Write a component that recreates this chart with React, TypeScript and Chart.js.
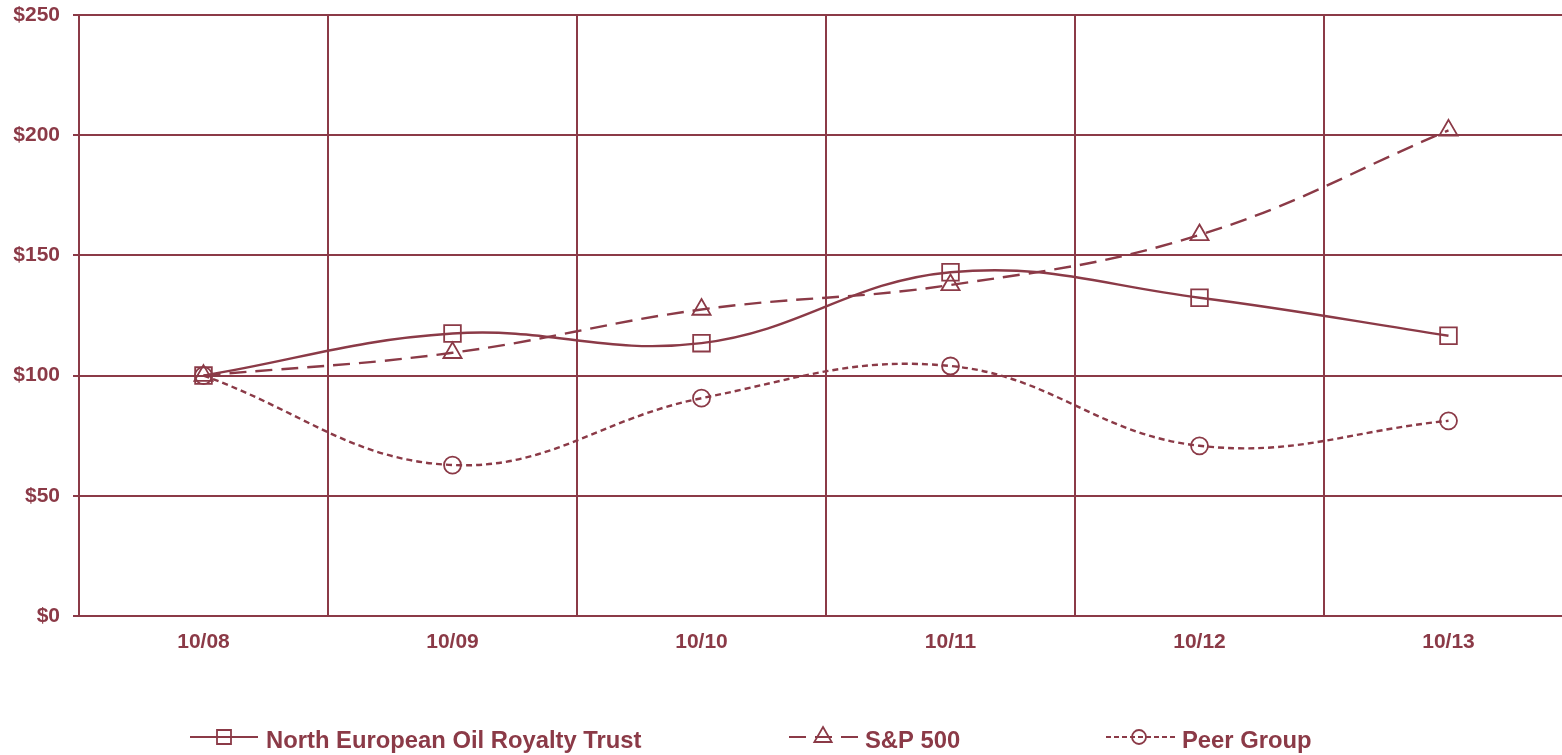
import React, { useEffect, useRef } from 'react';
import { Chart, registerables } from 'chart.js';

Chart.register(...registerables);

const categories = ['10/08', '10/09', '10/10', '10/11', '10/12', '10/13'];
const neortValues = [100, 117.5, 113.5, 143, 132.4, 116.6];
const spValues = [100, 109.5, 127.5, 137.7, 158.5, 202];
const peerValues = [100, 62.8, 90.6, 104, 70.8, 81.2];
const yTickValues = [0, 50, 100, 150, 200, 250];
const seriesNames = ['North European Oil Royalty Trust', 'S&P 500', 'Peer Group'];

const COLOR = '#8B3A47';
const FONT = "'Liberation Sans', Arial, sans-serif";

function drawMarker(ctx: CanvasRenderingContext2D, style: string, x: number, y: number, r: number) {
  ctx.beginPath();
  if (style === 'rect') {
    ctx.rect(x - r, y - r, 2 * r, 2 * r);
  } else if (style === 'triangle') {
    ctx.moveTo(x, y - r);
    ctx.lineTo(x + r * 0.866, y + r * 0.5);
    ctx.lineTo(x - r * 0.866, y + r * 0.5);
    ctx.closePath();
  } else {
    ctx.arc(x, y, r, 0, Math.PI * 2);
  }
  ctx.stroke();
}

const legendPlugin = {
  id: 'customLegend',
  afterDraw(chart: any) {
    const ctx: CanvasRenderingContext2D = chart.ctx;
    const y = 737;
    const items = [
      { x0: 190, x1: 258, mx: 224, dash: [] as number[], style: 'rect', mr: 7, tx: 266 },
      { x0: 789, x1: 858, mx: 823, dash: [17, 9], style: 'triangle', mr: 10, tx: 865 },
      { x0: 1106, x1: 1175, mx: 1139, dash: [5, 3], style: 'circle', mr: 7, tx: 1182 },
    ];
    ctx.save();
    items.forEach((it, i) => {
      ctx.strokeStyle = COLOR;
      ctx.lineWidth = 2.2;
      ctx.setLineDash(it.dash);
      ctx.beginPath();
      ctx.moveTo(it.x0, y);
      ctx.lineTo(it.x1, y);
      ctx.stroke();
      ctx.setLineDash([]);
      ctx.lineWidth = 1.8;
      drawMarker(ctx, it.style, it.mx, y, it.mr);
      ctx.fillStyle = COLOR;
      ctx.font = `bold 23.8px ${FONT}`;
      ctx.textBaseline = 'middle';
      ctx.textAlign = 'left';
      ctx.fillText(seriesNames[i], it.tx, y + 4);
    });
    ctx.restore();
  },
};

export default function App() {
  const canvasRef = useRef<HTMLCanvasElement | null>(null);

  useEffect(() => {
    const canvas = canvasRef.current;
    if (!canvas) return;
    const chart = new Chart(canvas, {
      type: 'line',
      data: {
        labels: categories,
        datasets: [
          {
            label: seriesNames[0],
            data: neortValues,
            borderColor: COLOR,
            borderWidth: 2.4,
            tension: 0.4,
            pointStyle: 'rect',
            pointRadius: 11.8,
            pointBorderWidth: 1.8,
            pointBorderColor: COLOR,
            pointBackgroundColor: 'rgba(0,0,0,0)',
            fill: false,
          },
          {
            label: seriesNames[1],
            data: spValues,
            borderColor: COLOR,
            borderWidth: 2.4,
            borderDash: [17, 9],
            tension: 0.4,
            pointStyle: 'triangle',
            pointRadius: 10.5,
            pointBorderWidth: 1.8,
            pointBorderColor: COLOR,
            pointBackgroundColor: 'rgba(0,0,0,0)',
            fill: false,
          },
          {
            label: seriesNames[2],
            data: peerValues,
            borderColor: COLOR,
            borderWidth: 2.4,
            borderDash: [6, 4],
            tension: 0.4,
            pointStyle: 'circle',
            pointRadius: 8.5,
            pointBorderWidth: 1.8,
            pointBorderColor: COLOR,
            pointBackgroundColor: 'rgba(0,0,0,0)',
            fill: false,
          },
        ],
      },
      options: {
        responsive: false,
        animation: false,
        devicePixelRatio: 1,
        layout: { padding: { top: 15, right: 27, bottom: 0, left: 0 } },
        plugins: {
          legend: { display: false },
          tooltip: { enabled: false },
        },
        scales: {
          x: {
            type: 'category',
            offset: true,
            grid: {
              offset: true,
              color: COLOR,
              lineWidth: 2,
              drawTicks: false,
            },
            border: { display: false },
            ticks: {
              color: COLOR,
              padding: 14,
              font: { family: FONT, size: 21, weight: 'bold' },
              maxRotation: 0,
            },
            afterFit(scale: any) {
              scale.height = 139;
              scale.paddingTop = 0;
              scale.paddingLeft = 0;
              scale.paddingRight = 0;
            },
          },
          y: {
            min: 0,
            max: 250,
            afterBuildTicks(scale: any) {
              scale.ticks = yTickValues.map((v) => ({ value: v }));
            },
            grid: {
              color: COLOR,
              lineWidth: 2,
              drawTicks: true,
              tickLength: 6,
            },
            border: { display: true, color: COLOR, width: 2 },
            ticks: {
              color: COLOR,
              padding: 13,
              font: { family: FONT, size: 21, weight: 'bold' },
              callback: (v: any) => '$' + v,
            },
            afterFit(scale: any) {
              scale.width = 79;
              scale.paddingTop = 0;
              scale.paddingBottom = 0;
            },
          },
        },
      },
      plugins: [legendPlugin],
    });
    return () => chart.destroy();
  }, []);

  return (
    <div
      style={{
        position: 'fixed',
        left: 0,
        top: 0,
        width: 1562,
        height: 755,
        overflow: 'hidden',
        background: '#fff',
      }}
    >
      <canvas ref={canvasRef} width={1600} height={755} style={{ display: 'block', width: 1600, height: 755 }} />
    </div>
  );
}
